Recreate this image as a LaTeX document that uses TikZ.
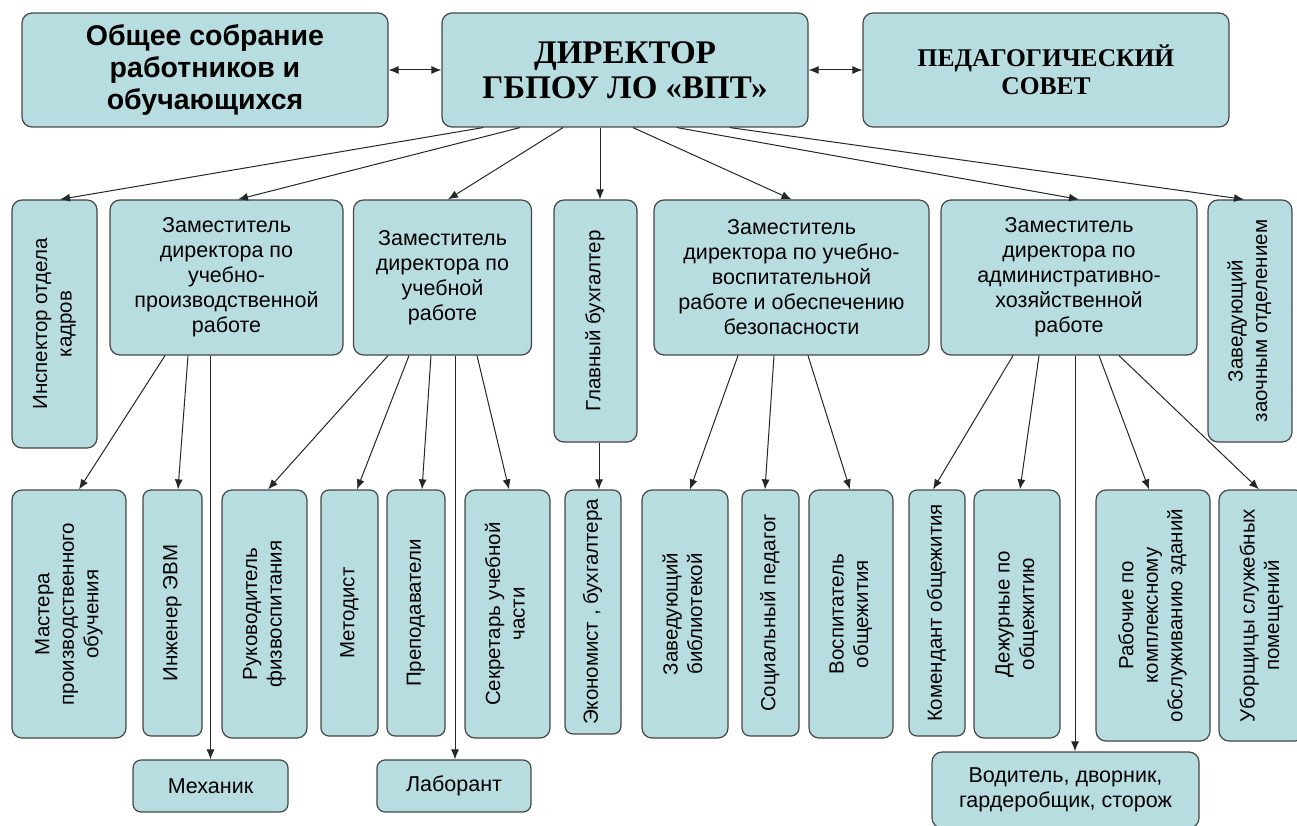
\documentclass[tikz,border=0pt]{standalone}
\usepackage{fontspec}
\usepackage{graphicx}
\setmainfont{Liberation Sans}
\newfontfamily\serifbold{Liberation Serif}
\usetikzlibrary{arrows.meta}
\definecolor{boxfill}{RGB}{184,221,225}
\definecolor{boxline}{RGB}{70,70,70}
\newcommand{\vtext}[1]{\rotatebox{90}{\fontsize{20.5}{24.5}\selectfont\begin{tabular}{@{}c@{}}#1\end{tabular}}}

\begin{document}
\begin{tikzpicture}[x=1pt,y=-1pt]
\tikzstyle{every node}=[rectangle, rounded corners=10pt, draw=boxline, fill=boxfill, line width=1.2pt, inner sep=2pt, align=center, font=\fontsize{21.5}{25}\selectfont]
\tikzstyle{arr}=[-{Latex[length=10pt,width=8pt]}, line width=1pt, draw=black!85]
\tikzstyle{darr}=[{Latex[length=10pt,width=8pt]}-{Latex[length=10pt,width=8pt]}, line width=1pt, draw=black!85]
\useasboundingbox (0,0) rectangle (1297,826);
\clip (0,0) rectangle (1297,826);
\node (sob) at (205,70) [minimum width=366pt, minimum height=114pt, font=\bfseries\fontsize{28.5}{32}\selectfont] {Общее собрание\\работников и\\обучающихся};
\node (dir) at (625,70) [minimum width=366pt, minimum height=114pt, font=\serifbold\bfseries\fontsize{33}{35}\selectfont] {ДИРЕКТОР\\ГБПОУ ЛО «ВПТ»};
\node (ped) at (1046,70) [minimum width=366pt, minimum height=114pt, font=\serifbold\bfseries\fontsize{25.5}{28}\selectfont] {ПЕДАГОГИЧЕСКИЙ\\СОВЕТ};
\node (insp) at (54.5,324) [minimum width=85pt, minimum height=248pt] {\vtext{Инспектор отдела\\кадров}};
\node (zup) at (226.5,277.5) [minimum width=233pt, minimum height=155pt] {Заместитель\\директора по\\учебно-\\производственной\\работе};
\node (zu) at (442.5,277.5) [minimum width=178pt, minimum height=155pt] {Заместитель\\директора по\\учебной\\работе};
\node (buh) at (595.5,321) [minimum width=83pt, minimum height=242pt] {\vtext{Главный бухгалтер}};
\node (zuv) at (791.5,277.5) [minimum width=275pt, minimum height=155pt] {Заместитель\\директора по учебно-\\воспитательной\\работе и обеспечению\\безопасности};
\node (zah) at (1069,277.5) [minimum width=256pt, minimum height=155pt] {Заместитель\\директора по\\административно-\\хозяйственной\\работе};
\node (zaoch) at (1250,321) [minimum width=84pt, minimum height=242pt] {\vtext{Заведующий\\заочным отделением}};
\node (mast) at (69,614) [minimum width=114pt, minimum height=248pt] {\vtext{Мастера\\производственного\\обучения}};
\node (ing) at (172.5,613) [minimum width=59pt, minimum height=246pt, rounded corners=8pt] {\vtext{Инженер ЭВМ}};
\node (ruk) at (264.5,614) [minimum width=85pt, minimum height=248pt] {\vtext{Руководитель\\физвоспитания}};
\node (met) at (349.5,613) [minimum width=57pt, minimum height=246pt, rounded corners=8pt] {\vtext{Методист}};
\node (prep) at (416,613) [minimum width=58pt, minimum height=246pt, rounded corners=8pt] {\vtext{Преподаватели}};
\node (sekr) at (507.5,614) [minimum width=85pt, minimum height=248pt] {\vtext{Секретарь учебной\\части}};
\node (ekon) at (593,612) [minimum width=56pt, minimum height=244pt, rounded corners=8pt] {\vtext{Экономист , бухгалтера}};
\node (bibl) at (685,614) [minimum width=86pt, minimum height=248pt] {\vtext{Заведующий\\библиотекой}};
\node (soc) at (770.5,613) [minimum width=57pt, minimum height=246pt, rounded corners=8pt] {\vtext{Социальный педагог}};
\node (vosp) at (851,614) [minimum width=84pt, minimum height=248pt] {\vtext{Воспитатель\\общежития}};
\node (kom) at (937,613) [minimum width=56pt, minimum height=246pt, rounded corners=8pt] {\vtext{Комендант общежития}};
\node (dez) at (1017,614) [minimum width=86pt, minimum height=248pt] {\vtext{Дежурные по\\общежитию}};
\node (rab) at (1153,615.5) [minimum width=114pt, minimum height=251pt] {\vtext{Рабочие по\\комплексному\\обслуживанию зданий}};
\node (ubor) at (1262,615.5) [minimum width=86pt, minimum height=251pt] {\vtext{Уборщицы служебных\\помещений}};
\node (mech) at (210.5,786) [minimum width=155pt, minimum height=52pt, rounded corners=8pt] {Механик};
\node (lab) at (454,786) [minimum width=154pt, minimum height=52pt, rounded corners=8pt] {Лаборант};
\node (vod) at (1065.5,790) [minimum width=267pt, minimum height=76pt] {Водитель, дворник,\\гардеробщик, сторож};
\draw[darr] (sob) -- (dir);
\draw[darr] (dir) -- (ped);
\draw[arr] ([xshift=-142pt]dir.south) -- ([xshift=5.5pt]insp.north);
\draw[arr] ([xshift=-105pt]dir.south) -- ([xshift=11.5pt]zup.north);
\draw[arr] ([xshift=-62pt]dir.south) -- ([xshift=5.5pt]zu.north);
\draw[arr] ([xshift=-25pt]dir.south) -- ([xshift=4.5pt]buh.north);
\draw[arr] ([xshift=8pt]dir.south) -- (zuv.north);
\draw[arr] ([xshift=52pt]dir.south) -- ([xshift=10pt]zah.north);
\draw[arr] ([xshift=105pt]dir.south) -- ([xshift=-6pt]zaoch.north);
\draw[arr] ([xshift=-61.5pt]zup.south) -- ([xshift=10pt]mast.north);
\draw[arr] ([xshift=-38.5pt]zup.south) -- ([xshift=5.5pt]ing.north);
\draw[arr] ([xshift=-16pt]zup.south) -- (mech.north);
\draw[arr] ([xshift=-54.5pt]zu.south) -- ([xshift=3.5pt]ruk.north);
\draw[arr] ([xshift=-33.5pt]zu.south) -- ([xshift=7.5pt]met.north);
\draw[arr] ([xshift=-11.5pt]zu.south) -- ([xshift=6pt]prep.north);
\draw[arr] ([xshift=12.5pt]zu.south) -- ([xshift=1pt]lab.north);
\draw[arr] ([xshift=34.5pt]zu.south) -- ([xshift=1.5pt]sekr.north);
\draw[arr] ([xshift=3.5pt]buh.south) -- ([xshift=6pt]ekon.north);
\draw[arr] ([xshift=-53.5pt]zuv.south) -- ([xshift=5pt]bibl.north);
\draw[arr] ([xshift=-17.5pt]zuv.south) -- ([xshift=-5.5pt]soc.north);
\draw[arr] ([xshift=16.5pt]zuv.south) -- ([xshift=-1pt]vosp.north);
\draw[arr] ([xshift=-56pt]zah.south) -- ([xshift=-4pt]kom.north);
\draw[arr] ([xshift=-30pt]zah.south) -- ([xshift=3pt]dez.north);
\draw[arr] ([xshift=6pt]zah.south) -- ([xshift=9.5pt]vod.north);
\draw[arr] ([xshift=30pt]zah.south) -- ([xshift=-4pt]rab.north);
\draw[arr] ([xshift=50pt]zah.south) -- ([xshift=-3pt]ubor.north);
\end{tikzpicture}
\end{document}
